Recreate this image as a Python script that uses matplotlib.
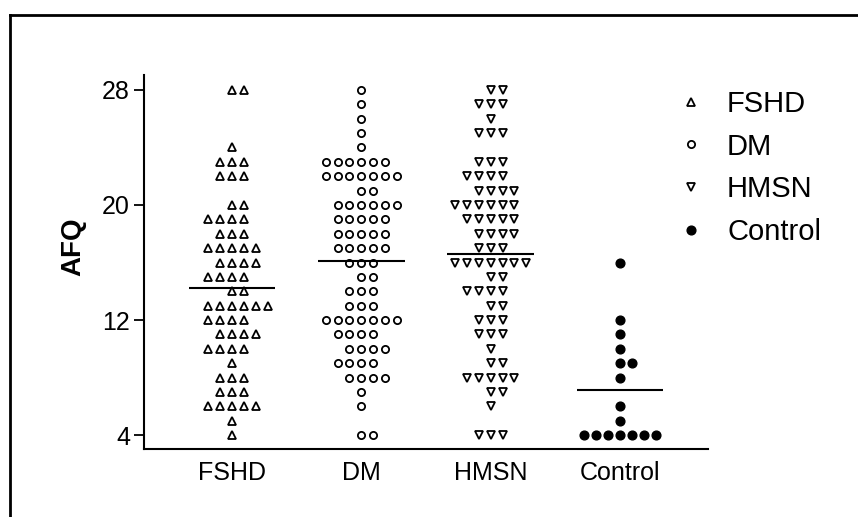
import numpy as np
import matplotlib
matplotlib.use("Agg")
import matplotlib.pyplot as plt
from matplotlib.lines import Line2D

plt.rcParams['font.family'] = ['Liberation Sans', 'DejaVu Sans']

# ---- data (AFQ score levels and number of subjects at each level) ----
groups = ["FSHD", "DM", "HMSN", "Control"]

fshd_levels = [28, 24, 23, 22, 20, 19, 18, 17, 16, 15, 14, 13, 12, 11, 10, 9, 8, 7, 6, 5, 4]
fshd_counts = [2, 1, 3, 3, 2, 4, 3, 5, 4, 4, 2, 6, 4, 4, 4, 1, 3, 3, 5, 1, 1]

dm_levels = [28, 27, 26, 25, 24, 23, 22, 21, 20, 19, 18, 17, 16, 15, 14, 13, 12, 11, 10, 9, 8, 7, 6, 4]
dm_counts = [1, 1, 1, 1, 1, 6, 7, 2, 6, 5, 5, 5, 3, 2, 3, 3, 7, 4, 4, 4, 4, 1, 1, 2]

hmsn_levels = [28, 27, 26, 25, 23, 22, 21, 20, 19, 18, 17, 16, 15, 14, 13, 12, 11, 10, 9, 8, 7, 6, 4]
hmsn_counts = [2, 3, 1, 3, 3, 4, 4, 6, 5, 4, 3, 7, 2, 4, 2, 3, 3, 1, 2, 5, 2, 1, 3]

control_levels = [16, 12, 11, 10, 9, 8, 6, 5, 4]
control_counts = [1, 1, 1, 1, 2, 1, 1, 1, 7]

yticks = [4, 12, 20, 28]

levels = [fshd_levels, dm_levels, hmsn_levels, control_levels]
counts = [fshd_counts, dm_counts, hmsn_counts, control_counts]

styles = [
    dict(marker='^', ms=6.0, mfc='white', mec='black', mew=1.3),
    dict(marker='o', ms=5.2, mfc='white', mec='black', mew=1.3),
    dict(marker='v', ms=6.0, mfc='white', mec='black', mew=1.3),
    dict(marker='o', ms=6.3, mfc='black', mec='black', mew=1.0),
]

W, H = 858, 517
fig = plt.figure(figsize=(W / 100, H / 100), dpi=100)
ax = fig.add_axes([144 / W, 1 - 449 / H, (708 - 144) / W, (449 - 75) / H])

step = 0.092
handles = []
for gi, (lv, ct, st) in enumerate(zip(levels, counts, styles)):
    xs, ys = [], []
    toggle = False
    for v, n in zip(lv, ct):
        if n % 2 == 1:
            start = -(n // 2)
        elif n == 2:
            start = 0
        else:
            start = -(n // 2) + (1 if toggle else 0)
            toggle = not toggle
        for k in range(n):
            xs.append(gi + (start + k) * step)
            ys.append(v)
    ax.plot(xs, ys, linestyle='none', clip_on=False, **st)
    mean = np.mean(np.repeat(lv, ct))
    ax.hlines(mean, gi - 0.335, gi + 0.335, color='black', lw=1.5, zorder=3)
    handles.append(Line2D([], [], linestyle='none', **st))

ax.set_xlim(-0.68, 3.68)
ax.set_ylim(3.03, 29.04)
ax.set_xticks(range(len(groups)))
ax.set_xticklabels(groups, fontsize=18)
ax.set_yticks(yticks)
ax.set_yticklabels([str(t) for t in yticks], fontsize=18)
ax.tick_params(axis='x', length=0, pad=9)
ax.tick_params(axis='y', length=7, width=1.3, pad=3, direction='out')
for s in ['top', 'right']:
    ax.spines[s].set_visible(False)
for s in ['left', 'bottom']:
    ax.spines[s].set_linewidth(1.5)

ax.set_ylabel('AFQ', fontsize=20, fontweight='bold')
ax.yaxis.set_label_coords((86 - 144) / (708 - 144), (449 - 247) / (449 - 75))

leg = fig.legend(handles, groups, loc='upper left',
                 bbox_to_anchor=(676 / W, 1 - 90 / H), frameon=False,
                 fontsize=21, handlelength=1.0, handletextpad=0.75,
                 labelspacing=0.5, borderaxespad=0, borderpad=0)

# figure frame (left and top edges visible)
fx = 10 / W
fy = 1 - 15 / H
fig.add_artist(Line2D([fx, fx], [0, fy], transform=fig.transFigure, color='black', lw=2))
fig.add_artist(Line2D([fx, 1], [fy, fy], transform=fig.transFigure, color='black', lw=2))

fig.savefig('out.png', dpi=100)
